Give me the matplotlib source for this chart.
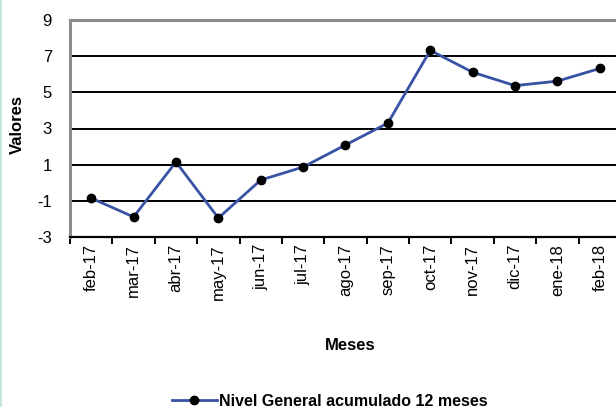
import matplotlib
matplotlib.use("Agg")
import matplotlib.pyplot as plt
from matplotlib.patches import Rectangle
from matplotlib.lines import Line2D

plt.rcParams['font.family'] = ['Liberation Sans', 'DejaVu Sans']

months = ["feb-17", "mar-17", "abr-17", "may-17", "jun-17", "jul-17", "ago-17",
          "sep-17", "oct-17", "nov-17", "dic-17", "ene-18", "feb-18"]
values = [-0.85, -1.89, 1.15, -1.95, 0.15, 0.87, 2.09, 3.3, 7.32, 6.11, 5.37, 5.62, 6.32]
yticks = [-3, -1, 1, 3, 5, 7, 9]
series_name = "Nivel General acumulado 12 meses"

fig = plt.figure(figsize=(6.16, 4.07), dpi=100)
fig.patch.set_facecolor('white')
fig.patches.append(Rectangle((0, 0), 2/616, 1, transform=fig.transFigure,
                             facecolor='#c5e6d8', edgecolor='none', zorder=0))

ax = fig.add_axes([70/616, 1-237/407, 551/616, 217/407])
x = list(range(len(months)))
ax.plot(x, values, color='#3853a4', lw=2.0, marker='o', markersize=6,
        markerfacecolor='black', markeredgecolor='black', zorder=3, clip_on=False)

ax.set_xlim(-0.5, len(months) - 0.5)
ax.set_ylim(-3, 9)
ax.set_yticks(yticks)
ax.set_yticklabels([str(v) for v in yticks], fontsize=12)
for v in yticks[1:-1]:
    ax.axhline(v, color='black', lw=1.4, zorder=1)

ax.set_xticks(x)
ax.set_xticklabels(months, rotation=90, fontsize=12)
ax.tick_params(axis='x', which='major', length=0, pad=5)
ax.set_xticks([i - 0.5 for i in range(len(months) + 1)], minor=True)
ax.tick_params(axis='x', which='minor', length=5, width=1.4, color='black', direction='out')
ax.tick_params(axis='y', length=0, pad=13)

for s in ['top', 'left']:
    ax.spines[s].set_color('#8c8c8c')
    ax.spines[s].set_linewidth(2.2)
ax.spines['right'].set_visible(False)
ax.spines['bottom'].set_color('black')
ax.spines['bottom'].set_linewidth(1.6)

fig.text(350/616, 1-345/407, "Meses", fontsize=12, fontweight='bold', ha='center', va='center')
fig.text(17/616, 1-125/407, "Valores", fontsize=12, fontweight='bold', ha='center', va='center', rotation=90)

handle = Line2D([], [], color='#3853a4', lw=2.0, marker='o', markersize=6,
                markerfacecolor='black', markeredgecolor='black')
leg = fig.legend([handle], [series_name], loc='center', bbox_to_anchor=(330/616, 1-401/407),
                 frameon=False, prop={'size': 11.5, 'weight': 'bold'},
                 handlelength=2.8, handletextpad=0.15, borderaxespad=0, borderpad=0)

fig.savefig("out.png", dpi=100)
